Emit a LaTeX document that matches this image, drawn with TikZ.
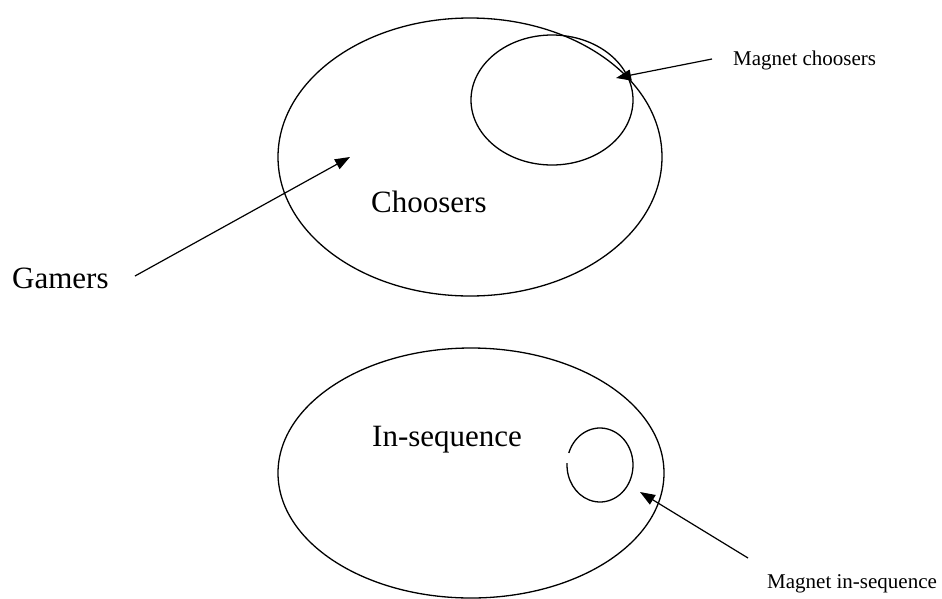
\documentclass[tikz,border=0pt]{standalone}
\usepackage{fontspec}
\setmainfont{Liberation Serif}
\usetikzlibrary{shapes.geometric,arrows.meta}
\begin{document}
\begin{tikzpicture}[x=1pt,y=-1pt,
  ring/.style={draw,ellipse,line width=1.3pt,inner sep=0pt,outer sep=0pt},
  biglabel/.style={font=\fontsize{31}{36}\selectfont,anchor=base west,inner sep=0pt},
  smalllabel/.style={font=\fontsize{21}{25}\selectfont,anchor=base west,inner sep=0pt},
  pointer/.style={line width=1.2pt,-{Triangle[length=15pt,width=11pt]}}]
\useasboundingbox (0,0) rectangle (942,598);
% ellipses
\node[ring,minimum width=384pt,minimum height=278pt] (choosers) at (470,157) {};
\node[ring,minimum width=162pt,minimum height=130pt] (magch) at (552,100) {};
\node[ring,minimum width=386pt,minimum height=250pt] (inseq) at (471,473) {};
\coordinate (magin) at (600,465);
\draw[line width=1.3pt] (magin) ++(199:33 and 37) arc[start angle=199,end angle=543,x radius=33,y radius=37];
% labels
\node[biglabel] (lchoosers) at (371,212) {Choosers};
\node[biglabel] (lgamers) at (12,288) {Gamers};
\node[biglabel] (linseq) at (372,446) {In-sequence};
\node[smalllabel] (lmagch) at (733,65) {Magnet choosers};
\node[smalllabel] (lmagin) at (767,588) {Magnet in-sequence};
% arrows
\coordinate (g0) at (135,276);
\coordinate (g1) at (350,157);
\coordinate (m0) at (712,59);
\coordinate (m1) at (616,78);
\coordinate (s0) at (748,558);
\coordinate (s1) at (640,492);
\draw[pointer] (g0) -- (g1);
\draw[pointer] (m0) -- (m1);
\draw[pointer] (s0) -- (s1);
\end{tikzpicture}
\end{document}
